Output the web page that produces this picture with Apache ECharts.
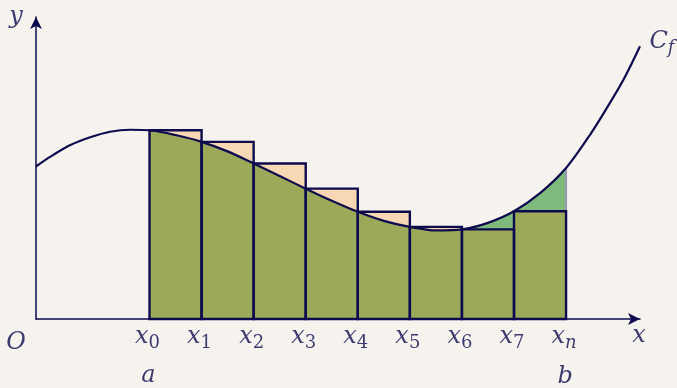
<!DOCTYPE html>
<html>
<head>
<meta charset="utf-8">
<script src="https://cdn.jsdelivr.net/npm/echarts@6/dist/echarts.min.js"></script>
<style>
  html, body { margin: 0; padding: 0; background: #f6f3ef; }
  #main { width: 677px; height: 388px; }
</style>
</head>
<body>
<div id="main"></div>
<script>
// subdivision points x0..xn and the value of f at each of them
var xs = [2.18, 3.18, 4.18, 5.18, 6.18, 7.18, 8.18, 9.18, 10.18];
var fAtNodes = [3.75, 3.52, 3.09, 2.59, 2.13, 1.83, 1.78, 2.14, 3.00];
var subLabels = ['0', '1', '2', '3', '4', '5', '6', '7', 'n'];
var boundLabels = ['a', 'b'];

// points on the curve C_f
var curveX = [0, 0.27, 0.65, 1.04, 1.42, 1.81, 2.18, 2.68, 3.18, 3.68, 4.18, 4.68, 5.18, 5.68,
              6.18, 6.68, 7.18, 7.68, 8.18, 8.68, 9.18, 9.68, 10.18, 10.64, 11.02, 11.31, 11.6];
var curveY = [3.03, 3.22, 3.45, 3.61, 3.72, 3.76, 3.75, 3.655, 3.52, 3.33, 3.09, 2.84, 2.59, 2.35,
              2.13, 1.95, 1.83, 1.76, 1.78, 1.91, 2.14, 2.50, 3.00, 3.66, 4.29, 4.81, 5.42];

var navy = '#0d0b4d';
var olive = '#9ca959';
var orange = '#f8d7b5';
var green = '#7dba7b';
var font = 'DejaVu Serif';

var curve = curveX.map(function (x, i) { return [x, curveY[i]]; });

// rectangles [left, right, height] (left endpoint sums)
var rects = [];
for (var i = 0; i < xs.length - 1; i++) {
  rects.push([xs[i], xs[i + 1], fAtNodes[i]]);
}
// rectangles lying under the curve (f rising on the step)
var lowRects = rects.filter(function (r, i) { return fAtNodes[i + 1] > fAtNodes[i]; });
var last = xs.length - 1;

function rectItem(fill, stroke, lw) {
  return function (params, api) {
    var p0 = api.coord([api.value(0), api.value(2)]);
    var p1 = api.coord([api.value(1), 0]);
    return {
      type: 'rect',
      shape: { x: p0[0], y: p0[1], width: p1[0] - p0[0], height: p1[1] - p0[1] },
      style: { fill: fill, stroke: stroke, lineWidth: lw }
    };
  };
}

var mainStyle = { fontFamily: font, fontStyle: 'italic', fontSize: 24, lineHeight: 30, color: navy };
var subStyle = { fontFamily: font, fontSize: 18, lineHeight: 14, verticalAlign: 'bottom', color: navy };
var subItStyle = { fontFamily: font, fontStyle: 'italic', fontSize: 18, lineHeight: 14, verticalAlign: 'bottom', color: navy };

var labelData = [];
xs.forEach(function (x, i) {
  var s = /[0-9]/.test(subLabels[i]) ? 's' : 'si';
  labelData.push({ value: [x, 0], label: { formatter: '{m|x}{' + s + '|' + subLabels[i] + '}', offset: [-2, 18] } });
});
labelData.push({ value: [xs[0], 0], label: { formatter: '{m|' + boundLabels[0] + '}', offset: [-1, 57] } });
labelData.push({ value: [xs[last], 0], label: { formatter: '{m|' + boundLabels[1] + '}', offset: [-1, 58] } });
labelData.push({ value: [0, 0], label: { formatter: '{m|O}', offset: [-20, 24] } });
labelData.push({ value: [11.6, 0], label: { formatter: '{m|x}', offset: [-1, 17] } });
labelData.push({ value: [0, 6], label: { formatter: '{m|y}', offset: [-20, 0] } });
labelData.push({ value: curve[curve.length - 1], label: { formatter: '{m|C}{si|f}', offset: [22, -4] } });

var myChart = echarts.init(document.getElementById('main'));
var option = {
  backgroundColor: '#f6f3ef',
  animation: false,
  grid: { left: 36, right: 37, top: 17, bottom: 69 },
  xAxis: {
    type: 'value', min: 0, max: 11.6,
    axisLine: { show: true, symbol: ['none', 'arrow'], symbolSize: [9, 12], lineStyle: { color: navy, width: 1.5 } },
    axisTick: { show: false }, axisLabel: { show: false }, splitLine: { show: false }
  },
  yAxis: {
    type: 'value', min: 0, max: 6,
    axisLine: { show: true, symbol: ['none', 'arrow'], symbolSize: [9, 12], lineStyle: { color: navy, width: 1.5 } },
    axisTick: { show: false }, axisLabel: { show: false }, splitLine: { show: false }
  },
  visualMap: [{
    show: false, type: 'piecewise', seriesIndex: 1, dimension: 0,
    pieces: [{ gte: xs[0], lt: xs[6], color: olive }, { gte: xs[6], lte: xs[last], color: green }],
    outOfRange: { color: 'rgba(0,0,0,0)' }
  }, {
    show: false, type: 'piecewise', seriesIndex: 5, dimension: 0,
    pieces: [{ gte: xs[0], lt: xs[6], color: '#4b2a3d' }],
    outOfRange: { color: navy }
  }],
  series: [{
    type: 'custom', renderItem: rectItem(orange, null, 0),
    encode: { x: [0, 1], y: 2 }, data: rects, z: 1, silent: true
  }, {
    type: 'line', data: curve, smooth: 0.3, symbol: 'none', z: 2, silent: true,
    lineStyle: { width: 0 }, areaStyle: { opacity: 1 }
  }, {
    type: 'custom', renderItem: rectItem(olive, null, 0),
    encode: { x: [0, 1], y: 2 }, data: lowRects, z: 3, silent: true
  }, {
    type: 'line', data: [[xs[last], fAtNodes[last - 1]], [xs[last], fAtNodes[last]]],
    symbol: 'none', z: 4, silent: true, lineStyle: { color: '#9a98b2', width: 2 }
  }, {
    type: 'custom', renderItem: rectItem('none', navy, 2.4),
    encode: { x: [0, 1], y: 2 }, data: rects, z: 5, silent: true
  }, {
    type: 'line', data: curve, smooth: 0.3, symbol: 'none', z: 6, silent: true,
    lineStyle: { width: 2.2, color: navy }
  }, {
    type: 'scatter', symbolSize: 0, z: 7, silent: true,
    label: {
      show: true, position: 'inside',
      rich: { m: mainStyle, s: subStyle, si: subItStyle }
    },
    data: labelData
  }]
};
myChart.setOption(option);
</script>
</body>
</html>
